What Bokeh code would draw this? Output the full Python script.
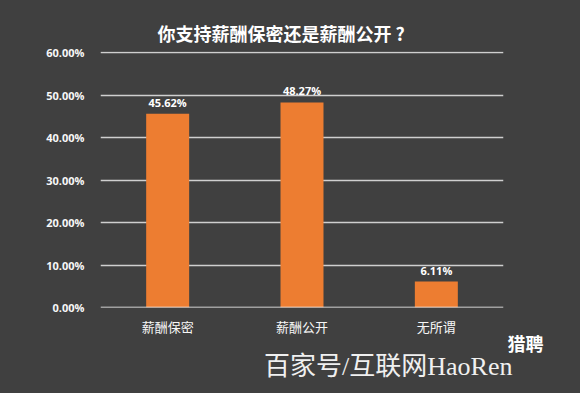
from bokeh.plotting import figure
from bokeh.models import ColumnDataSource, LabelSet, Title, NumeralTickFormatter, FixedTicker, Range1d, Span
from bokeh.core.properties import value
from bokeh.embed import file_html
from bokeh.resources import INLINE

categories = ["薪酬保密", "薪酬公开", "无所谓"]
shares = [0.4562, 0.4827, 0.0611]
y_ticks = [0.0, 0.1, 0.2, 0.3, 0.4, 0.5, 0.6]
title_text = "你支持薪酬保密还是薪酬公开 ?"
watermark = "百家号/互联网HaoRen"
logo_text = "猎聘"

BG = "#404040"
ORANGE = "#ED7D31"
FONT = "Noto Sans CJK SC"

src = ColumnDataSource(dict(
    cat=categories,
    val=shares,
    lab=[f"{v*100:.2f}%" for v in shares],
))

p = figure(x_range=categories, y_range=Range1d(0, 0.6025),
           width=580, height=393, output_backend="svg", toolbar_location=None,
           min_border_left=100, min_border_right=77, min_border_top=51, min_border_bottom=86)
p.styles = {"background-color": BG}
p.background_fill_color = BG
p.border_fill_color = BG
p.outline_line_color = None

p.title.text = title_text
p.title.align = "left"
p.title.offset = 57
p.title.standoff = 11
p.title.text_color = "#ffffff"
p.title.text_font = FONT
p.title.text_font_style = "bold"
p.title.text_font_size = "18px"

p.vbar(x="cat", top="val", width=0.32, source=src, color=ORANGE, line_color=None)

p.xgrid.grid_line_color = None
p.ygrid.grid_line_color = "#cfcfcf"
p.ygrid.grid_line_width = 1.5
p.yaxis.ticker = FixedTicker(ticks=y_ticks)
p.yaxis.formatter = NumeralTickFormatter(format="0.00%")
for ax in (p.xaxis, p.yaxis):
    ax.axis_line_color = None
    ax.major_tick_line_color = None
    ax.minor_tick_line_color = None
    ax.major_label_text_color = "#f7f7f7"
p.yaxis.major_label_text_font = "Open Sans"
p.yaxis.major_label_text_font_style = "bold"
p.yaxis.major_label_text_font_size = "11px"
p.yaxis.major_label_standoff = 10
p.xaxis.major_label_text_font = FONT
p.xaxis.major_label_text_font_size = "13px"
p.xaxis.major_label_standoff = 3

p.add_layout(Span(location=0, dimension="width", line_color="#ffffff", line_width=1.5))

labels = LabelSet(x="cat", y="val", text="lab", source=src, text_align="center",
                  text_baseline="bottom", y_offset=4, text_color="#ffffff",
                  text_font=value("Open Sans"), text_font_style="bold", text_font_size="11px")
p.add_layout(labels)

# logo text and watermark stacked below the x axis
p.add_layout(Title(text=logo_text, align="right", offset=-40, standoff=-22,
                   text_color="#ffffff", text_font=FONT, text_font_style="bold",
                   text_font_size="18px"), "below")
p.add_layout(Title(text=watermark, align="right", offset=-9, standoff=10,
                   text_color="#f0f0f0", text_font="Liberation Serif, Noto Sans CJK SC",
                   text_font_style="normal", text_font_size="26px"), "below")

open("out.html", "w").write(file_html(p, INLINE))
